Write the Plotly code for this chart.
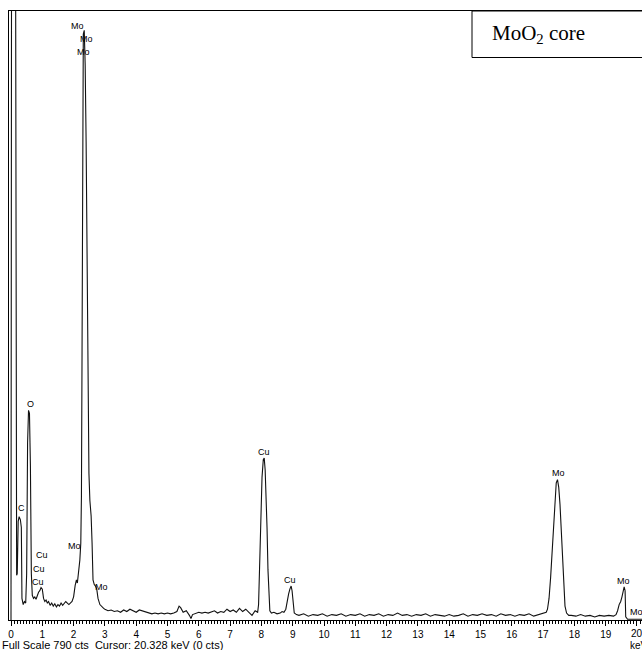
import plotly.graph_objects as go

# ---------------- data ----------------
energy_kev = [
    0.00, 0.01, 0.03, 0.12, 0.15, 0.18, 0.20, 0.23, 0.26, 0.30, 0.33, 0.35, 0.39, 0.43, 0.47,
    0.50, 0.53, 0.56, 0.59, 0.62, 0.65, 0.68,
    0.72, 0.76, 0.80, 0.84, 0.88, 0.92, 0.96, 1.00, 1.04, 1.08, 1.12, 1.16,
    1.20, 1.25, 1.30, 1.35, 1.40, 1.45, 1.50, 1.55, 1.60, 1.65, 1.70, 1.75, 1.80, 1.85,
    1.95, 2.00, 2.05, 2.09, 2.12, 2.16, 2.20, 2.23, 2.25, 2.27, 2.29, 2.31, 2.34, 2.37,
    2.40, 2.43, 2.46, 2.49, 2.52, 2.56, 2.59, 2.62, 2.66, 2.70, 2.74, 2.78, 2.84, 2.90, 2.96,
    3.0, 3.1, 3.2, 3.3, 3.4, 3.5, 3.6, 3.7, 3.8, 3.9, 4.0, 4.1, 4.2, 4.3, 4.4, 4.5, 4.6,
    4.7, 4.8, 4.9, 5.0, 5.1, 5.2, 5.3, 5.37, 5.42, 5.5, 5.6, 5.7, 5.75, 5.8, 5.9, 6.0,
    6.1, 6.2, 6.3, 6.4, 6.5, 6.6, 6.7, 6.8, 6.9, 7.0, 7.1, 7.2, 7.3, 7.4, 7.5, 7.6, 7.7, 7.8,
    7.88, 7.91, 7.93, 7.96, 7.99, 8.02, 8.06, 8.09, 8.12, 8.15, 8.18, 8.21, 8.24, 8.27, 8.32,
    8.4, 8.5, 8.6, 8.66, 8.72, 8.78, 8.83, 8.87, 8.91, 8.95, 8.98, 9.01, 9.05, 9.12,
    9.2, 9.35, 9.5, 9.65, 9.8, 9.95, 10.1, 10.25, 10.4, 10.55, 10.7, 10.85, 11.0, 11.15,
    11.3, 11.45, 11.6, 11.75, 11.9, 12.05, 12.2, 12.35, 12.5, 12.65, 12.8, 12.95, 13.1,
    13.25, 13.4, 13.55, 13.7, 13.85, 14.0, 14.15, 14.3, 14.45, 14.6, 14.75, 14.9, 15.05,
    15.2, 15.35, 15.5, 15.65, 15.8, 15.95, 16.1, 16.25, 16.4, 16.55, 16.7, 16.85, 17.0, 17.1,
    17.14, 17.19, 17.24, 17.29, 17.33, 17.38, 17.42, 17.46, 17.50, 17.54, 17.58, 17.62,
    17.66, 17.70, 17.75, 17.82,
    17.9, 18.05, 18.2, 18.35, 18.5, 18.65, 18.8, 18.95, 19.1, 19.25, 19.33, 19.38, 19.43,
    19.48, 19.52, 19.56, 19.59, 19.62, 19.64, 19.70, 19.9, 20.1, 20.2,
]
counts = [
    0, 400, 1500, 1500, 400, 58, 60, 128, 134, 130, 120, 28, 20, 24, 22,
    60, 230, 272, 268, 200, 60, 32,
    28, 30, 27, 33, 36, 38, 42, 40, 28, 24, 26, 22,
    24, 19, 22, 18, 21, 17, 20, 18, 22, 19, 21, 24, 22, 20,
    24, 30, 45, 52, 48, 62, 78, 100, 160, 350, 650, 760, 765, 720,
    620, 470, 310, 190, 155, 135, 100, 52, 46, 44, 40, 28, 20, 17, 15,
    14, 12, 13, 11, 12, 10, 13, 11, 14, 12, 10, 13, 12, 11, 9, 8, 9,
    8, 9, 8, 9, 8, 9, 11, 18, 16, 10, 12, 6, 2, 7, 9, 10,
    9, 10, 9, 10, 12, 9, 11, 10, 14, 11, 13, 10, 15, 11, 14, 10, 6, 12,
    10, 20, 56, 100, 143, 185, 208, 210, 195, 165, 120, 65, 25, 12, 9,
    10, 8, 9, 11, 10, 14, 28, 34, 40, 44, 38, 20, 9, 7,
    6, 8, 5, 7, 6, 8, 5, 7, 6, 8, 5, 7, 6, 8,
    5, 7, 6, 8, 5, 7, 6, 9, 6, 7, 5, 7, 6,
    8, 5, 7, 6, 5, 7, 5, 6, 8, 5, 7, 6, 8,
    6, 7, 5, 8, 6, 7, 5, 7, 6, 8, 5, 7, 8, 10,
    14, 28, 55, 90, 120, 158, 178, 182, 172, 150, 115, 72,
    40, 18, 9, 6,
    6, 5, 7, 5, 6, 4, 6, 5, 6, 5, 7, 12, 20,
    24, 30, 40, 43, 38, 4, 1, 1, 1, 1,
]

# element labels: (text, energy keV, counts)
label_text = ["Mo", "Mo", "Mo", "O", "C", "Cu", "Cu", "Cu", "Mo", "Mo",
              "Cu", "Cu", "Mo", "Mo"]
label_kev = [2.12, 2.41, 2.33, 0.61, 0.32, 0.99, 0.89, 0.86, 2.04, 2.88,
             8.08, 8.91, 17.48, 19.58]
label_cts = [771, 754, 737, 280, 145, 84, 66, 49, 96, 43,
             218, 52, 191, 51]
edge_label = ("Mo", 19.71, 10)

tick_vals = list(range(0, 20))
tick_text = [str(v) for v in tick_vals]
last_tick = 20

full_scale = 790
x_range = [-0.064, 20.16]

# ---------------- figure ----------------
W, H = 642, 650
ML, MR, MT, MB = 9, 0, 11, 30
PW, PH = W - ML - MR, H - MT - MB
SANS = "Liberation Sans, Arial"


def px_x(x):
    return (x - ML) / PW


def px_y(y):
    return (H - MB - y) / PH


fig = go.Figure()
fig.add_trace(go.Scatter(
    x=energy_kev, y=counts, mode="lines",
    line=dict(color="#111111", width=1.1),
    hoverinfo="skip", showlegend=False,
))

annotations = []
for t, e, c in zip(label_text, label_kev, label_cts):
    annotations.append(dict(x=e, y=c, xref="x", yref="y", text=t, showarrow=False,
                            font=dict(family=SANS, size=9, color="#000"),
                            xanchor="center", yanchor="middle"))
annotations.append(dict(x=edge_label[1], y=edge_label[2], xref="x", yref="y",
                        text=edge_label[0], showarrow=False,
                        font=dict(family=SANS, size=9, color="#000"),
                        xanchor="left", yanchor="middle"))
# last tick label (sits at the clipped right edge)
annotations.append(dict(x=last_tick, y=px_y(633), xref="x", yref="paper",
                        text=str(last_tick), showarrow=False,
                        font=dict(family=SANS, size=10, color="#000"),
                        xanchor="center", yanchor="middle"))
annotations.append(dict(x=px_x(538), y=px_y(34), xref="paper", yref="paper",
                        text="MoO<sub>2</sub> core", showarrow=False,
                        font=dict(family="Liberation Serif, Times New Roman", size=21, color="#000"),
                        xanchor="center", yanchor="middle"))
annotations.append(dict(x=px_x(0), y=px_y(645), xref="paper", yref="paper",
                        text="Full Scale 790 cts  Cursor: 20.328 keV (0 cts)", showarrow=False,
                        font=dict(family=SANS, size=11, color="#000"),
                        xanchor="left", yanchor="middle"))
annotations.append(dict(x=px_x(628), y=px_y(645), xref="paper", yref="paper",
                        text="keV", showarrow=False,
                        font=dict(family=SANS, size=10, color="#000"),
                        xanchor="left", yanchor="middle"))

shapes = [dict(type="rect", xref="paper", yref="paper",
               x0=px_x(472), x1=px_x(650), y0=px_y(57.5), y1=px_y(11),
               line=dict(color="#000", width=1), fillcolor="white", layer="above")]

fig.update_layout(
    width=W, height=H,
    margin=dict(l=ML, r=MR, t=MT, b=MB, pad=0),
    paper_bgcolor="white", plot_bgcolor="white",
    showlegend=False,
    annotations=annotations,
    shapes=shapes,
    xaxis=dict(range=x_range, showgrid=False, zeroline=False,
               showline=True, linecolor="#000", linewidth=1, mirror=True,
               ticks="outside", ticklen=5, tickwidth=1, tickcolor="#000",
               tickvals=tick_vals + [last_tick], ticktext=tick_text + [""],
               tickfont=dict(family=SANS, size=10, color="#000"),
               minor=dict(dtick=0.1, ticks="outside", ticklen=3, tickcolor="#000", tickwidth=1,
                          showgrid=False),
               fixedrange=True),
    yaxis=dict(range=[0, full_scale], showgrid=False, zeroline=False,
               showline=True, linecolor="#000", linewidth=1, mirror=False,
               showticklabels=False, ticks="", fixedrange=True),
)

fig.write_html("out.html")
